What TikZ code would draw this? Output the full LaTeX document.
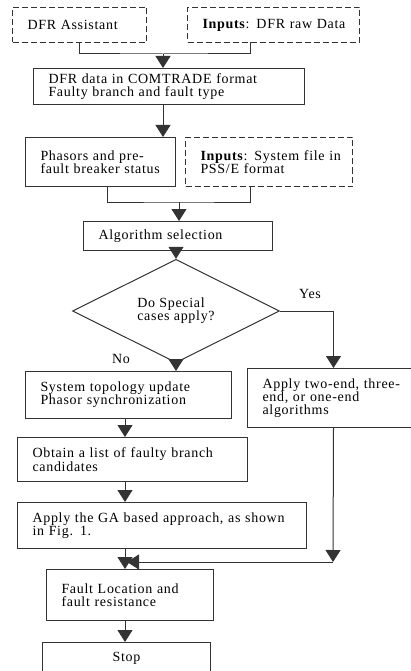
\documentclass[tikz,border=0pt]{standalone}
\usepackage{fontspec}
\setmainfont{Liberation Serif}[LetterSpace=5]
\usetikzlibrary{arrows.meta,shapes.geometric}

\begin{document}
\begin{tikzpicture}[x=1pt,y=-1pt,>={Triangle[width=15pt,length=12pt]},line width=1pt,
	font=\fontsize{14}{13.3}\selectfont,
	box/.style={draw=black!80,anchor=north west,inner xsep=15pt,inner ysep=0pt,align=left},
	inbox/.style={box,dash pattern=on 6pt off 3pt},
	decision/.style={draw=black!80,diamond,inner sep=0pt,minimum width=207pt,minimum height=82pt,align=left},
	wire/.style={draw=black!80}]
	\path[use as bounding box,clip] (0,0) rectangle (411,671);
	% inputs
	\node[inbox,text width=104pt,minimum height=35pt] (assist) at (12,7) {DFR Assistant};
	\node[inbox,text width=142pt,minimum height=35pt] (rawdata) at (187,7) {\mbox{\textbf{Inputs}: DFR raw Data}};
	\node[box,text width=241pt,minimum height=36pt] (comtrade) at (33,68) {DFR data in COMTRADE format\\Faulty branch and fault type};
	\node[box,text width=120pt,minimum height=49pt] (phasors) at (25,137) {Phasors and pre-\\fault breaker status};
	\node[inbox,text width=137pt,minimum height=49pt] (sysfile) at (185,137) {\mbox{\textbf{Inputs}: System file in}\\PSS/E format};
	\node[box,text width=159pt,minimum height=29pt] (algsel) at (83,221) {Algorithm selection};
	% decision
	\node[decision] (special) at (176,311) {Do Special\\cases apply?};
	\node (yes) at (310,294) {Yes};
	\node (no) at (121,359) {No};
	% branches
	\node[box,text width=176pt,minimum height=47pt] (topology) at (25,371) {System topology update\\Phasor synchronization};
	\node[box,text width=142pt,minimum height=59pt] (twoend) at (247,368) {Apply two-end, three-\\end, or one-end\\algorithms};
	\node[box,text width=200pt,minimum height=44pt] (candidates) at (17,437) {Obtain a list of faulty branch\\candidates};
	\node[box,text width=259pt,minimum height=46pt] (gabased) at (17,502) {Apply the GA based approach, as shown\\in Fig. 1.};
	\node[box,text width=137pt,minimum height=51pt] (faultloc) at (46,569) {Fault Location and\\fault resistance};
	\node[box,text width=138pt,minimum height=32pt,align=center] (stop) at (42,642) {Stop};
	% joints
	\coordinate (j1) at (163,54);
	\coordinate (j2) at (179,202);
	\coordinate (spine) at (125,0);
	\coordinate (jr) at (333,562);
	\coordinate (jl) at (127,562);
	% connectors
	\draw[wire] (assist.south) |- (j1) -| (250,42);
	\draw[wire,->] (j1) -- (j1 |- comtrade.north);
	\draw[wire,->] (j1 |- comtrade.south) -- (j1 |- phasors.north);
	\draw[wire] (107,186) |- (j2) -| (250,186);
	\draw[wire,->] (j2) -- (j2 |- algsel.north);
	\draw[wire,->] (special.north |- algsel.south) -- (special.north);
	\draw[wire,->] (special.east) -| (twoend.north);
	\draw[wire,->] (special.south) -- (special.south |- topology.north);
	\draw[wire,->] (spine |- topology.south) -- (spine |- candidates.north);
	\draw[wire,->] (spine |- candidates.south) -- (spine |- gabased.north);
	\draw[wire,->] (spine |- gabased.south) -- (spine |- faultloc.north);
	\draw[wire,->] (twoend.south) -- (jr);
	\draw[wire,->] (jr) -- (jl);
	\draw[wire,->] (spine |- faultloc.south) -- (spine |- stop.north);
\end{tikzpicture}
\end{document}
